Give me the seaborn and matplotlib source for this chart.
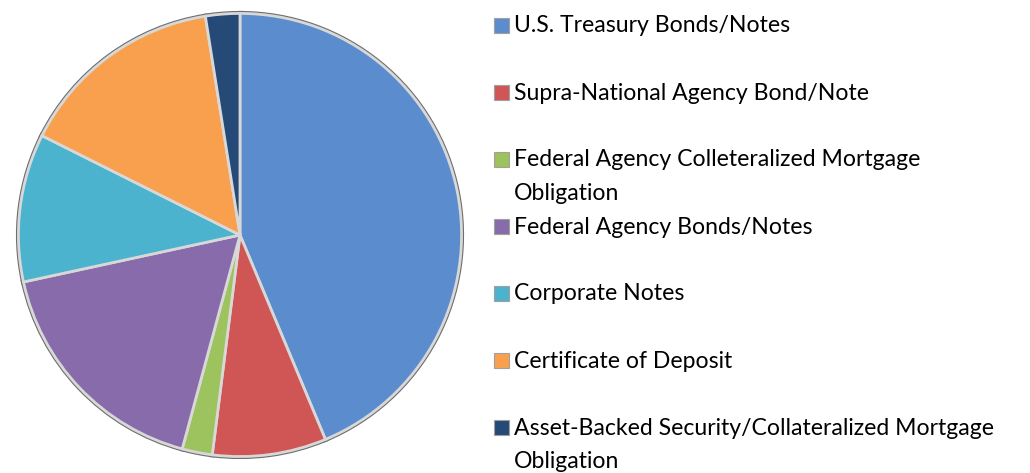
import matplotlib
matplotlib.use("Agg")
import matplotlib.pyplot as plt
import seaborn as sns
from matplotlib.patches import Rectangle

categories = [
    "U.S. Treasury Bonds/Notes",
    "Supra-National Agency Bond/Note",
    "Federal Agency Colleteralized Mortgage\nObligation",
    "Federal Agency Bonds/Notes",
    "Corporate Notes",
    "Certificate of Deposit",
    "Asset-Backed Security/Collateralized Mortgage\nObligation",
]
values = [43.7, 8.3, 2.2, 17.4, 10.8, 15.1, 2.5]
colors = ["#5B8CCD", "#D05555", "#9DC35E", "#876BAA", "#4BB3CE", "#F9A04E", "#254A77"]

sns.set_theme(style="white")
plt.rcParams["font.family"] = ["Lato", "DejaVu Sans"]

W, H = 1030, 473
fig = plt.figure(figsize=(W / 100, H / 100), dpi=100)
fig.patch.set_facecolor("white")

cx, cy, r = 240, 235, 226
ax = fig.add_axes([(cx - r) / W, (H - cy - r) / H, 2 * r / W, 2 * r / H])
pal = sns.color_palette(colors)
wedges, _ = ax.pie(values, colors=pal, startangle=90, counterclock=False,
                   radius=1.0,
                   wedgeprops=dict(edgecolor="#6E6E6E", linewidth=3.6))
wedges2, _ = ax.pie(values, colors=pal, startangle=90, counterclock=False,
                    radius=1.0,
                    wedgeprops=dict(edgecolor="#D8D8D8", linewidth=2.0))
ax.set_xlim(-1.02, 1.02)
ax.set_ylim(-1.02, 1.02)
ax.set_aspect("equal")
ax.axis("off")

# legend, Excel style: fixed slot per entry
ys = [26, 93, 160, 227, 294, 361, 428]
for lab, col, y in zip(categories, colors, ys):
    fig.patches.append(Rectangle((494 / W, (H - y - 7) / H), 15 / W, 15 / H,
                                 transform=fig.transFigure, facecolor=col,
                                 edgecolor="#A0A0A0", linewidth=0.8))
    lines = lab.split("\n")
    for k, ln in enumerate(lines):
        fig.text(514 / W, (H - y - 33 * k) / H, ln, fontsize=16.6, color="#000000",
                 va="center", ha="left")

fig.savefig("out.png", dpi=100, facecolor="white")
